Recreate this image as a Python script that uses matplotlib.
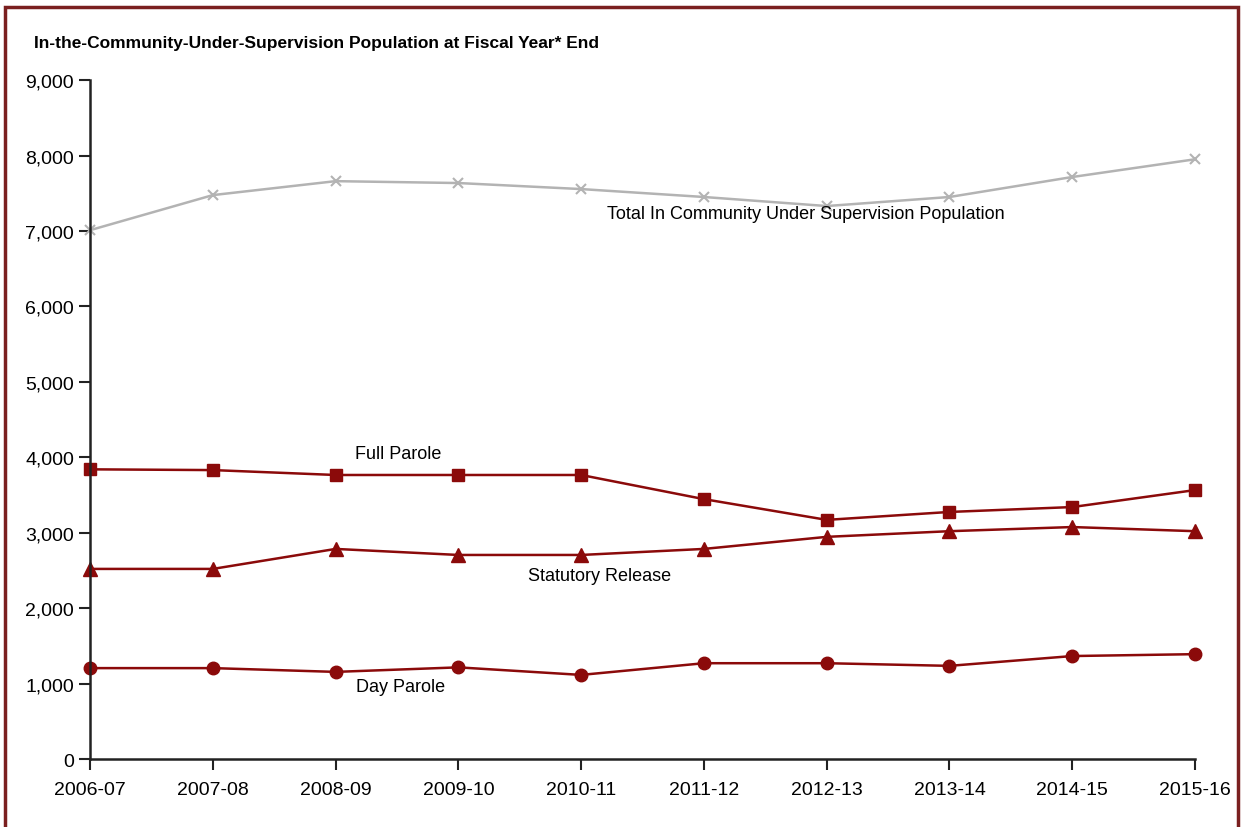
import matplotlib.pyplot as plt
from matplotlib.patches import Rectangle
from matplotlib.ticker import FuncFormatter

years = ['2006-07', '2007-08', '2008-09', '2009-10', '2010-11',
         '2011-12', '2012-13', '2013-14', '2014-15', '2015-16']
total = [7010, 7475, 7660, 7635, 7555, 7450, 7330, 7450, 7715, 7950]
full_parole = [3840, 3830, 3765, 3765, 3765, 3445, 3170, 3275, 3340, 3565]
statutory = [2520, 2520, 2785, 2705, 2705, 2785, 2945, 3020, 3075, 3020]
day_parole = [1205, 1205, 1155, 1215, 1115, 1270, 1270, 1235, 1365, 1390]

red = '#8B0A0A'
plt.rcParams['font.family'] = ['Liberation Sans Narrow', 'Liberation Sans', 'DejaVu Sans']

fig = plt.figure(figsize=(12.42, 8.28), dpi=100)
ax = fig.add_axes([0.0725, 0.0821, 0.8897, 0.8200])

x = range(len(years))
ax.plot(x, total, color='#B3B3B3', lw=1.8, marker='x', ms=7, mew=1.5, clip_on=False)
ax.plot(x, full_parole, color=red, lw=1.8, marker='s', ms=9, clip_on=False)
ax.plot(x, statutory, color=red, lw=1.8, marker='^', ms=10, clip_on=False)
ax.plot(x, day_parole, color=red, lw=1.8, marker='o', ms=9, clip_on=False)

ax.text(4.21, 7235, 'Total In Community Under Supervision Population', fontsize=13, va='center')
ax.text(2.16, 4050, 'Full Parole', fontsize=13, va='center')
ax.text(3.57, 2430, 'Statutory Release', fontsize=13, va='center')
ax.text(2.17, 955, 'Day Parole', fontsize=13, va='center')

ax.set_xlim(0, 9)
ax.set_ylim(0, 9000)
ax.set_xticks(list(x))
ax.set_xticklabels(years)
ax.set_yticks(range(0, 9001, 1000))
ax.yaxis.set_major_formatter(FuncFormatter(lambda v, p: f'{int(v):,}'))
ax.tick_params(axis='both', labelsize=14, width=1.5, length=8, direction='out', color='#222222')
ax.tick_params(axis='x', pad=8)
ax.spines['top'].set_visible(False)
ax.spines['right'].set_visible(False)
for s in ('left', 'bottom'):
    ax.spines[s].set_linewidth(1.8)
    ax.spines[s].set_color('#222222')

fig.text(0.027, 0.948, 'In-the-Community-Under-Supervision Population at Fiscal Year* End',
         fontsize=12.5, fontweight='bold', va='center')

# outer border
fig.patches.append(Rectangle((0.004, -0.02), 0.993, 1.01, transform=fig.transFigure,
                             fill=False, edgecolor='#7A1F1F', lw=2.5))

fig.savefig('out.png', dpi=100)
